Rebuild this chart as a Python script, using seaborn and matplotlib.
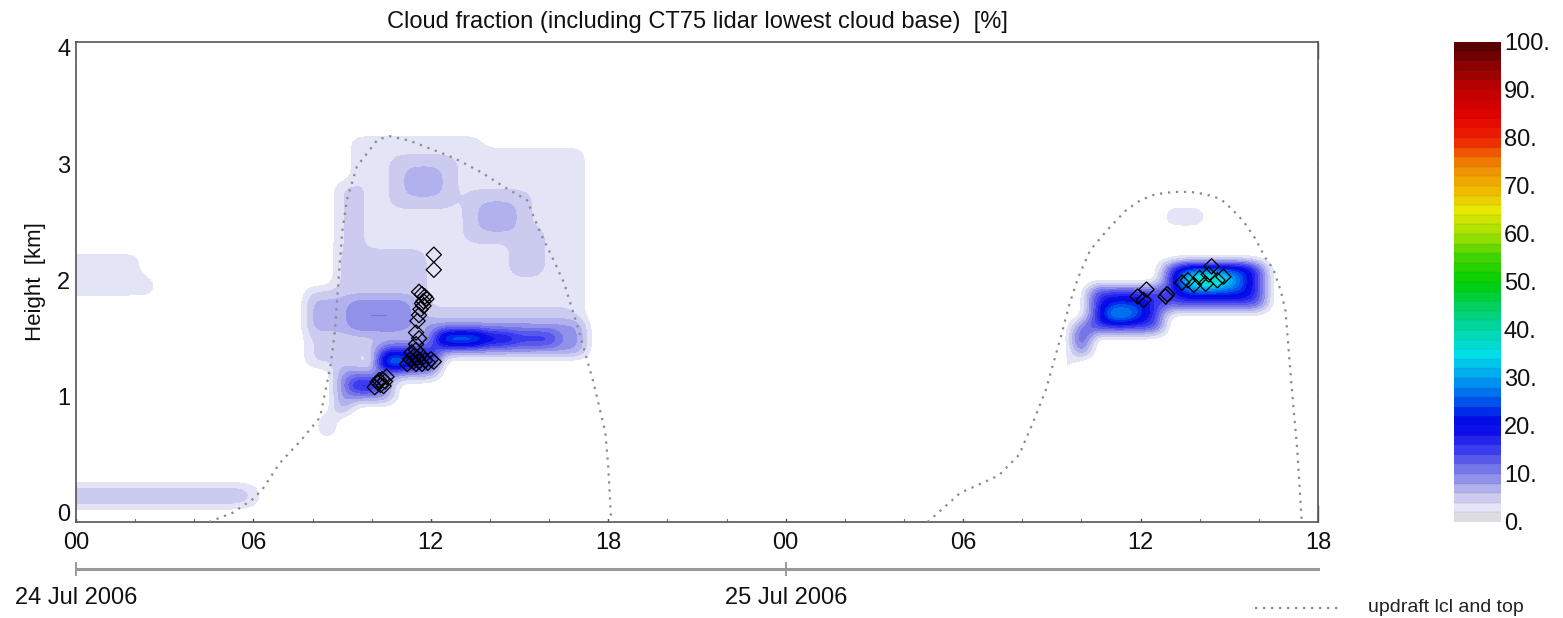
import numpy as np
import matplotlib
matplotlib.use("Agg")
import matplotlib.pyplot as plt
import seaborn as sns
from matplotlib.colors import LinearSegmentedColormap, ListedColormap, Normalize
from matplotlib.cm import ScalarMappable
from matplotlib.lines import Line2D
from matplotlib.ticker import MultipleLocator

# ---------------- data ----------------
hour_ticks = [0, 6, 12, 18, 24, 30, 36, 42]
hour_labels = ["00", "06", "12", "18", "00", "06", "12", "18"]
date_ticks = [0, 24]
date_labels = ["24 Jul 2006", "25 Jul 2006"]
cbar_ticks = [0, 10, 20, 30, 40, 50, 60, 70, 80, 90, 100]
cbar_labels = ["0.", "10.", "20.", "30.", "40.", "50.", "60.", "70.", "80.", "90.", "100."]

# cloud-fraction patches: hours since 24 Jul 00 UTC, height [km], cloud fraction [%]
cloud_t0 = [0.0, 6.0, 0.0, 2.0, 0.0,
            9.5, 9.5, 8.0, 9.0, 8.0, 9.5, 9.0, 11.0, 11.5, 13.5, 14.0, 15.0,
            12.0, 12.5, 13.5, 12.5, 12.0, 10.0, 10.5, 10.5, 11.5, 10.5,
            9.0, 9.5, 9.0, 8.5,
            33.5, 34.0, 34.0, 34.5, 35.0, 35.0,
            37.0, 37.5, 37.5, 38.0, 37.0, 36.0]
cloud_t1 = [5.5, 6.0, 2.0, 2.5, 1.5,
            17.0, 13.5, 9.5, 9.5, 11.5, 11.0, 11.5, 12.5, 12.0, 15.0, 14.5, 15.5,
            17.0, 16.0, 14.5, 13.5, 16.5, 12.0, 12.0, 11.0, 12.0, 12.0,
            10.5, 10.0, 9.0, 8.5,
            33.5, 34.0, 34.0, 36.5, 36.0, 35.5,
            40.0, 39.5, 39.0, 38.5, 38.0, 36.0]
cloud_z0 = [0.1, 0.1, 1.9, 1.9, 2.0,
            1.6, 3.1, 1.3, 1.9, 1.6, 1.6, 1.9, 2.7, 2.8, 2.4, 2.5, 2.1,
            1.4, 1.5, 1.5, 1.5, 1.7, 1.4, 1.3, 1.3, 1.3, 1.2,
            1.0, 1.1, 0.9, 0.7,
            1.2, 1.4, 1.5, 1.6, 1.7, 1.7,
            1.8, 1.9, 2.0, 2.0, 2.5, 2.2]
cloud_z1 = [0.2, 0.2, 2.2, 2.0, 2.0,
            3.1, 3.2, 1.9, 2.8, 1.8, 1.8, 2.2, 3.0, 2.9, 2.7, 2.6, 2.4,
            1.6, 1.5, 1.5, 1.5, 1.7, 1.5, 1.4, 1.3, 1.3, 1.2,
            1.2, 1.1, 0.9, 0.8,
            1.3, 1.6, 1.5, 1.9, 1.8, 1.7,
            2.1, 2.1, 2.0, 2.0, 2.6, 2.3]
cloud_cf = [5.5, 3.5, 3, 3, 4,
            3.5, 3.5, 4.5, 4.5, 7, 10, 5, 5.5, 8, 5.5, 8, 5,
            9, 17, 22, 32, 5, 5, 16, 32, 20, 8,
            9, 20, 9, 5,
            3, 12, 17, 15, 24, 32,
            14, 24, 36, 46, 3, 3]

# updraft lcl and top (dotted)
updraft1_t = [4.5, 5.3, 6.0, 6.3, 6.9, 7.6, 8.25, 8.6, 8.75, 8.87, 9.0, 9.16, 9.5, 10.2,
              10.6, 11.3, 12.0, 12.8, 13.7, 14.5, 15.25, 15.7, 16.1, 16.5, 17.0, 17.5,
              17.9, 18.0, 18.1]
updraft1_z = [-0.08, 0.0, 0.12, 0.2, 0.43, 0.62, 0.82, 1.25, 1.55, 1.98, 2.41, 2.69, 2.98, 3.21,
              3.24, 3.2, 3.13, 3.05, 2.93, 2.8, 2.69, 2.41, 2.2, 1.98, 1.57, 1.12,
              0.69, 0.39, -0.08]
updraft2_t = [28.8, 29.9, 30.6, 31.2, 31.9, 32.4, 32.8, 33.3, 33.6, 33.9, 34.3, 34.9, 35.5,
              36.0, 36.5, 37.1, 37.7, 38.2, 38.7, 39.1, 39.5, 39.9, 40.2, 40.5, 40.75,
              40.9, 41.1, 41.3, 41.45]
updraft2_z = [-0.08, 0.17, 0.25, 0.32, 0.5, 0.8, 1.06, 1.51, 1.8, 2.03, 2.26, 2.44, 2.6,
              2.69, 2.74, 2.76, 2.76, 2.74, 2.7, 2.61, 2.5, 2.35, 2.2, 2.09, 1.9,
              1.74, 1.11, 0.54, -0.08]

# CT75 lidar lowest cloud base (diamonds)
lidar_t = [10.1, 10.2, 10.3, 10.35, 10.45, 10.5, 10.25, 10.4,
           11.2, 11.3, 11.4, 11.45, 11.5, 11.55, 11.6, 11.65, 11.7, 11.8, 11.9, 12.0, 12.1,
           11.35, 11.5,
           11.5, 11.6, 11.5, 11.55, 11.6, 11.65, 11.7, 11.75, 11.8, 11.7, 11.6, 11.75, 11.85,
           12.1, 12.1,
           35.9, 36.1, 36.2, 36.85, 36.9, 37.4, 37.6, 37.8, 38.0, 38.2, 38.4, 38.6, 38.8, 38.3]
lidar_z = [1.08, 1.12, 1.10, 1.15, 1.13, 1.17, 1.14, 1.09,
           1.28, 1.32, 1.30, 1.35, 1.28, 1.33, 1.30, 1.36, 1.28, 1.31, 1.29, 1.32, 1.30,
           1.38, 1.40,
           1.45, 1.50, 1.55, 1.65, 1.70, 1.75, 1.80, 1.82, 1.86, 1.88, 1.90, 1.78, 1.84,
           2.09, 2.22,
           1.86, 1.83, 1.92, 1.86, 1.88, 1.98, 2.00, 1.96, 2.02, 1.97, 2.12, 2.00, 2.03, 2.05]

# ---------------- styling ----------------
sns.set_theme(style="white")
plt.rcParams["font.family"] = ["Liberation Sans", "DejaVu Sans"]
plt.rcParams["text.color"] = "#111111"
plt.rcParams["xtick.color"] = "#111111"
plt.rcParams["ytick.color"] = "#111111"
plt.rcParams["axes.labelcolor"] = "#111111"

W, H = 1563, 618
fig = plt.figure(figsize=(W / 100, H / 100), dpi=100)
fig.patch.set_facecolor("white")

ax = fig.add_axes([76 / W, 1 - 522 / H, (1318 - 76) / W, 480 / H])

# colour table (IDL-like)
anchors = [
    (0.00, "#ffffff"), (0.02, "#eeeefa"), (0.05, "#c8c8f0"), (0.10, "#8484e8"),
    (0.15, "#3a3af0"), (0.20, "#0000e6"), (0.25, "#0050ee"), (0.30, "#00a0f0"),
    (0.35, "#00e0e8"), (0.40, "#00d8a8"), (0.45, "#00d060"), (0.50, "#00d000"),
    (0.55, "#40d400"), (0.60, "#a0e000"), (0.65, "#e8e800"), (0.70, "#f0b000"),
    (0.75, "#f08000"), (0.80, "#f02000"), (0.85, "#e00000"), (0.90, "#c00000"),
    (0.95, "#900000"), (1.00, "#500000"),
]
cont = LinearSegmentedColormap.from_list("cf", anchors)
nlev = 50
cols = cont((np.arange(nlev) + 0.5) / nlev)
img_cols = cols.copy()
img_cols[0] = (1, 1, 1, 1)
bar_cols = cols.copy()
bar_cols[0] = matplotlib.colors.to_rgba("#dcdce2")
cmap_img = ListedColormap(img_cols, name="cf_img")
cmap_img.set_under("white")
cmap_bar = ListedColormap(bar_cols, name="cf_bar")
norm = Normalize(0, 100)

# build cloud-fraction grid from the patches
grid_t = np.arange(0, 42.0001, 0.5)
grid_z = np.arange(0, 4.0001, 0.1)
T, Z = np.meshgrid(grid_t, grid_z)
field = np.zeros_like(T)
eps = 1e-6
for t0, t1, z0, z1, cf in zip(cloud_t0, cloud_t1, cloud_z0, cloud_z1, cloud_cf):
    m = (T >= t0 - eps) & (T <= t1 + eps) & (Z >= z0 - eps) & (Z <= z1 + eps)
    field[m] = np.maximum(field[m], cf)

im = ax.imshow(field, origin="lower", aspect="auto", cmap=cmap_img, norm=norm,
               extent=[-0.25, 42.25, -0.05, 4.05], interpolation="bicubic", zorder=1)

# updraft lines
line_kw = dict(color="#8a8a8a", linewidth=1.6, linestyle=(0, (1, 2.6)), legend=False, sort=False,
               estimator=None, zorder=3)
sns.lineplot(x=updraft1_t, y=updraft1_z, ax=ax, **line_kw)
sns.lineplot(x=updraft2_t, y=updraft2_z, ax=ax, **line_kw)

# lidar cloud base
sns.scatterplot(x=lidar_t, y=lidar_z, ax=ax, marker="D", s=60, facecolor="none",
                edgecolor="black", linewidth=0.9, zorder=4, legend=False)

ax.set_xlim(0, 42)
ax.set_ylim(-0.08, 4.05)
ax.set_xticks(hour_ticks)
ax.set_xticklabels(hour_labels, fontsize=17)
ax.xaxis.set_minor_locator(MultipleLocator(2))
ax.set_yticks([0, 1, 2, 3, 4])
ax.set_yticklabels(["0", "1", "2", "3", "4"], fontsize=17)
ax.yaxis.set_minor_locator(MultipleLocator(0.1))
ax.tick_params(axis="x", which="major", direction="in", length=12, width=1, color="#555555",
               top=True, bottom=True, pad=7)
ax.tick_params(axis="x", which="minor", direction="in", length=5, width=0.8, color="#777777",
               top=True, bottom=True)
ax.tick_params(axis="y", which="major", direction="in", length=22, width=1, color="#555555",
               left=True, right=True, pad=4)
ax.tick_params(axis="y", which="minor", direction="in", length=10, width=0.8, color="#777777",
               left=True, right=True)
for sp in ax.spines.values():
    sp.set_color("#555555")
    sp.set_linewidth(1.2)
ax.set_xlabel("")
ax.set_ylabel("Height  [km]", fontsize=16, labelpad=8)
ax.set_title("Cloud fraction (including CT75 lidar lowest cloud base)  [%]", fontsize=17, pad=10)

# date axis
sec = ax.secondary_xaxis(-47 / 480)
sec.set_xticks(date_ticks)
sec.set_xticklabels(date_labels, fontsize=17)
sec.tick_params(axis="x", direction="inout", length=10, width=1.2, color="#888888", pad=8)
sec.spines["bottom"].set_color("#999999")
sec.spines["bottom"].set_linewidth(2.2)

# colour bar
cax = fig.add_axes([1454 / W, 1 - 522 / H, 47 / W, 480 / H])
sm = ScalarMappable(norm=norm, cmap=cmap_bar)
cb = fig.colorbar(sm, cax=cax, ticks=cbar_ticks, drawedges=True)
cb.set_ticklabels(cbar_labels)
cb.ax.tick_params(length=0, labelsize=17, pad=2)
cb.outline.set_visible(False)
cb.dividers.set_color("#555555")
cb.dividers.set_linewidth(0.25)
cb.dividers.set_alpha(0.4)

# legend for dotted line
fig.add_artist(Line2D([1255 / W, 1338 / W], [1 - 608 / H, 1 - 608 / H], transform=fig.transFigure,
                      color="#8a8a8a", linewidth=1.6, linestyle=(0, (1, 2.6))))
fig.text(1368 / W, 1 - 607 / H, "updraft lcl and top", fontsize=14, va="center", ha="left",
         color="#222222")

fig.savefig("out.png", dpi=100)
